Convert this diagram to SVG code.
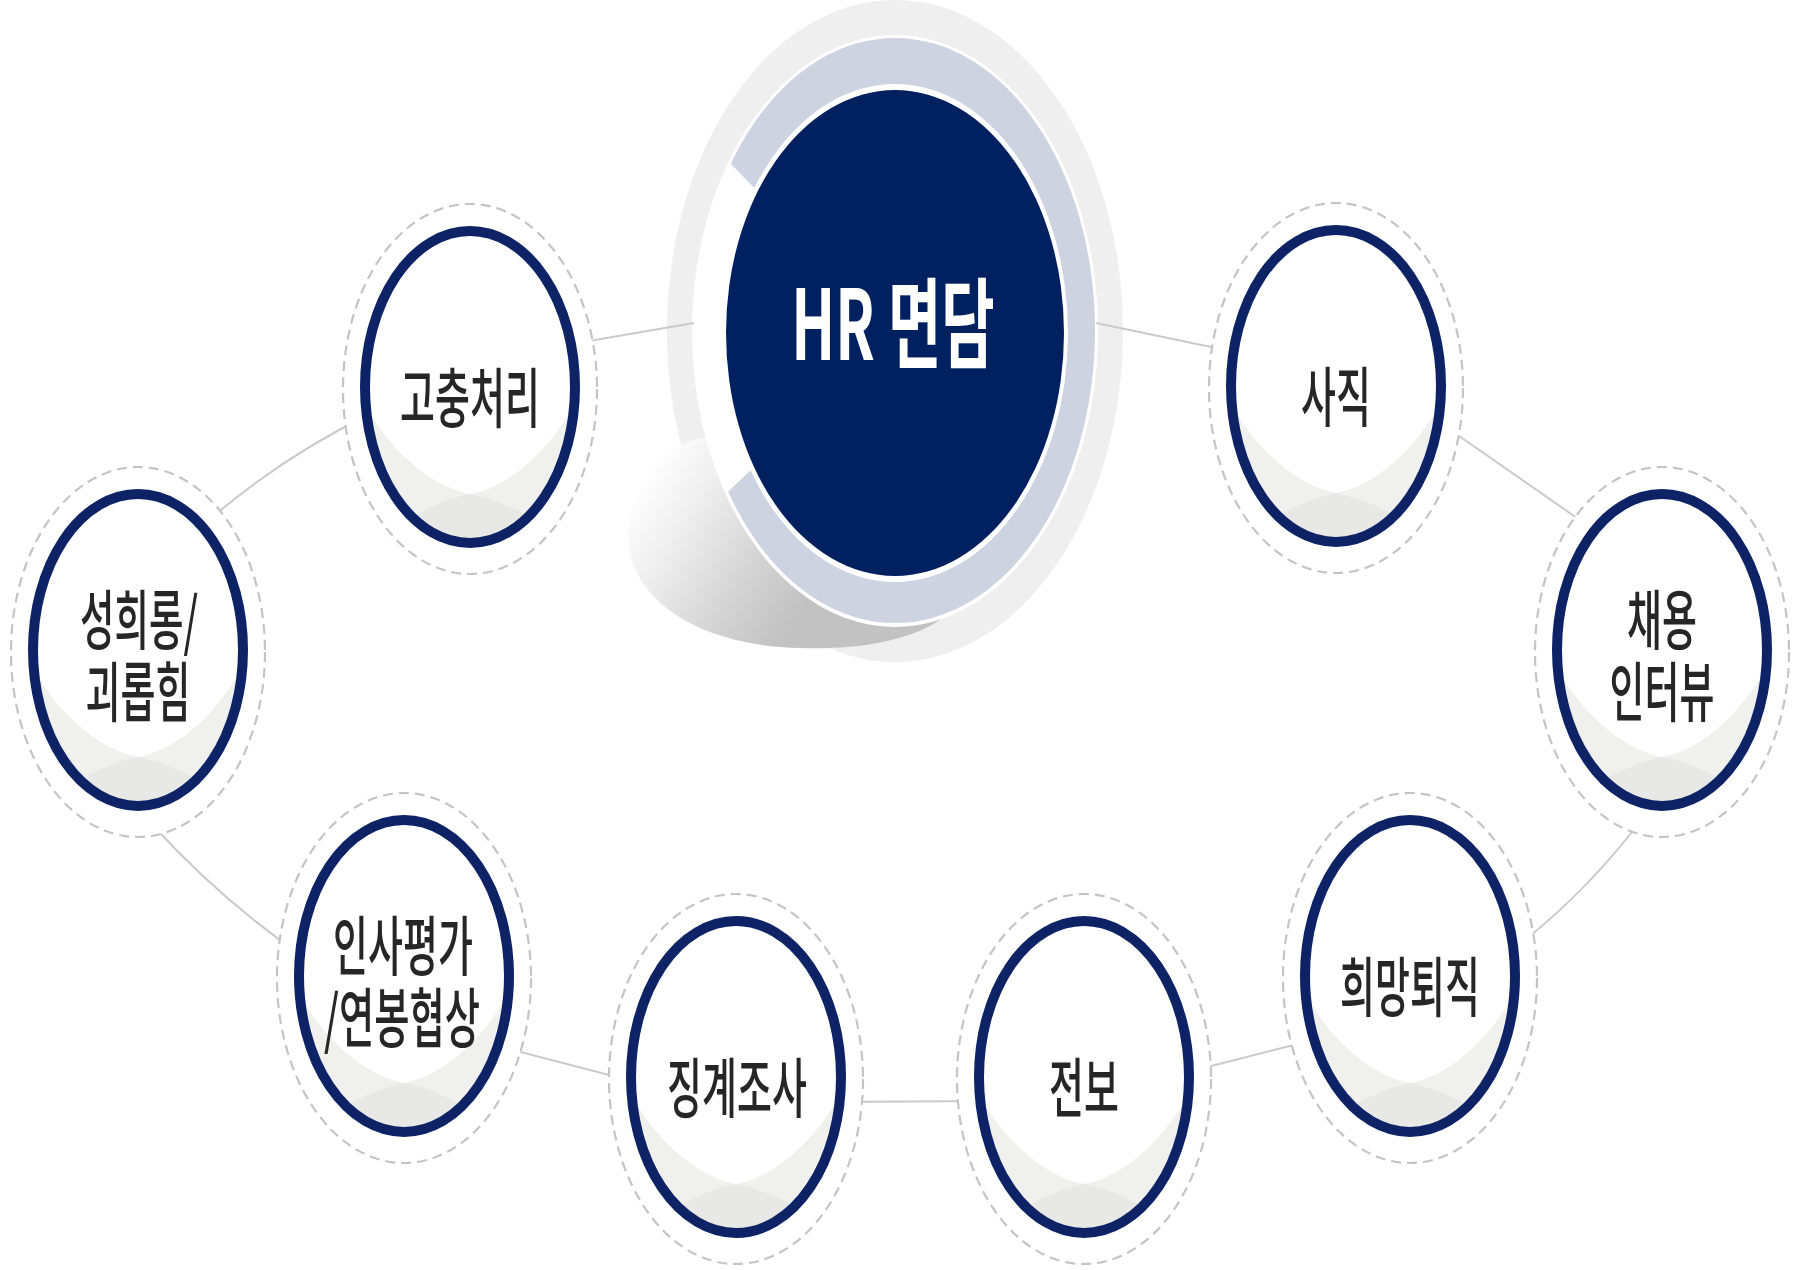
<svg xmlns="http://www.w3.org/2000/svg" xmlns:xlink="http://www.w3.org/1999/xlink" width="1808" height="1270" viewBox="0 0 1808 1270">
<style>
.conn{fill:none;stroke:#cacaca;stroke-width:2}
.dash{fill:#ffffff;stroke:#c4c4c4;stroke-width:2.2;stroke-dasharray:10 6}
.ring{fill:none;stroke:#0d2365;stroke-width:10}
.lbl{font-family:"Noto Sans CJK KR","Noto Sans",sans-serif;font-size:38px;font-weight:500;fill:#262626;text-anchor:middle}
.hr{font-family:"Noto Sans CJK KR","Noto Sans",sans-serif;font-size:58px;font-weight:700;fill:#ffffff;text-anchor:middle}
</style>
<defs>
<linearGradient id="shadowGrad" gradientUnits="userSpaceOnUse" x1="628" y1="500" x2="800" y2="610">
<stop offset="0" stop-color="#ffffff"/>
<stop offset="0.3" stop-color="#eeeeee"/>
<stop offset="0.7" stop-color="#d3d3d3"/>
<stop offset="1" stop-color="#c2c2c2"/>
</linearGradient>
<clipPath id="ringCut"><polygon points="895,333 569,-3 1300,-10 1300,700 532,678"/></clipPath>
<clipPath id="innerClip"><ellipse cx="0" cy="0" rx="101" ry="152"/></clipPath>
<g id="nodeBase">
<ellipse class="dash" cx="0" cy="2" rx="127" ry="185"/>
<g clip-path="url(#innerClip)">
<rect x="-110" y="-160" width="220" height="320" fill="#f0f0ee"/>
<path d="M-110,-160 L-110,8 C-85,60 -40,100 0,107 C40,100 85,60 110,5 L110,-160 Z" fill="#ffffff"/>
<path d="M0,107 C-30,113 -70,132 -105,165 L105,165 C70,130 30,113 0,107 Z" fill="#e8e8e6"/>
</g>
<ellipse class="ring" cx="0" cy="0" rx="105" ry="156"/>
</g>
</defs>
<rect x="0" y="0" width="1808" height="1270" fill="#ffffff"/>

<g id="node-hr">
<ellipse cx="895" cy="331" rx="228" ry="331" fill="#efefef"/>
<path d="M700,438 C655,450 628,490 628,535 C628,600 700,646 800,648 C860,650 910,640 940,620 L940,440 Z" fill="url(#shadowGrad)"/>
<ellipse cx="895" cy="331" rx="203" ry="296" fill="#ffffff"/>
<path d="M695,330.5 a200,292.5 0 1,0 400,0 a200,292.5 0 1,0 -400,0 Z M722,333 a173,249 0 1,0 346,0 a173,249 0 1,0 -346,0 Z" fill="#cdd3e0" fill-rule="evenodd" clip-path="url(#ringCut)"/>
<ellipse cx="895" cy="333" rx="169" ry="243" fill="#002060"/>
<text class="hr" transform="translate(893,360) scale(1,1.68)">HR 면담</text>
</g>

<g id="connectors">
<path class="conn" d="M560,346 L694,323"/>
<path class="conn" d="M1096,323 L1240,353"/>
<path class="conn" d="M200,528 Q276,460 370,414"/>
<path class="conn" d="M150,822 Q218,898 305,958"/>
<path class="conn" d="M490,1044 L640,1083"/>
<path class="conn" d="M830,1102 L990,1101"/>
<path class="conn" d="M1180,1074 L1325,1037"/>
<path class="conn" d="M1515,948 Q1590,890 1648,811"/>
<path class="conn" d="M1436,420 L1600,534"/>
</g>

<g id="node-gochung" transform="translate(470,387)">
<use xlink:href="#nodeBase" href="#nodeBase"/>
<text class="lbl" transform="translate(0,35) scale(1,1.7)">고충처리</text>
</g>
<g id="node-harass" transform="translate(138,650)">
<use xlink:href="#nodeBase" href="#nodeBase"/>
<text class="lbl" transform="translate(1,-6) scale(1,1.7)" textLength="118" lengthAdjust="spacingAndGlyphs">성희롱/</text>
<text class="lbl" transform="translate(0,66) scale(1,1.7)">괴롭힘</text>
</g>
<g id="node-eval" transform="translate(404,976)">
<use xlink:href="#nodeBase" href="#nodeBase"/>
<text class="lbl" transform="translate(-1,-6) scale(1,1.7)">인사평가</text>
<text class="lbl" transform="translate(-2,66) scale(1,1.7)" textLength="156" lengthAdjust="spacingAndGlyphs">/연봉협상</text>
</g>
<g id="node-discipline" transform="translate(736,1077)">
<use xlink:href="#nodeBase" href="#nodeBase"/>
<text class="lbl" transform="translate(1,35) scale(1,1.7)">징계조사</text>
</g>
<g id="node-transfer" transform="translate(1084,1077)">
<use xlink:href="#nodeBase" href="#nodeBase"/>
<text class="lbl" transform="translate(0,35) scale(1,1.7)">전보</text>
</g>
<g id="node-voluntary" transform="translate(1410,976)">
<use xlink:href="#nodeBase" href="#nodeBase"/>
<text class="lbl" transform="translate(0,35) scale(1,1.7)">희망퇴직</text>
</g>
<g id="node-hiring" transform="translate(1662,650)">
<use xlink:href="#nodeBase" href="#nodeBase"/>
<text class="lbl" transform="translate(0,-6) scale(1,1.7)">채용</text>
<text class="lbl" transform="translate(0,66) scale(1,1.7)">인터뷰</text>
</g>
<g id="node-resign" transform="translate(1336,386)">
<use xlink:href="#nodeBase" href="#nodeBase"/>
<text class="lbl" transform="translate(0,35) scale(1,1.7)">사직</text>
</g>
</svg>
